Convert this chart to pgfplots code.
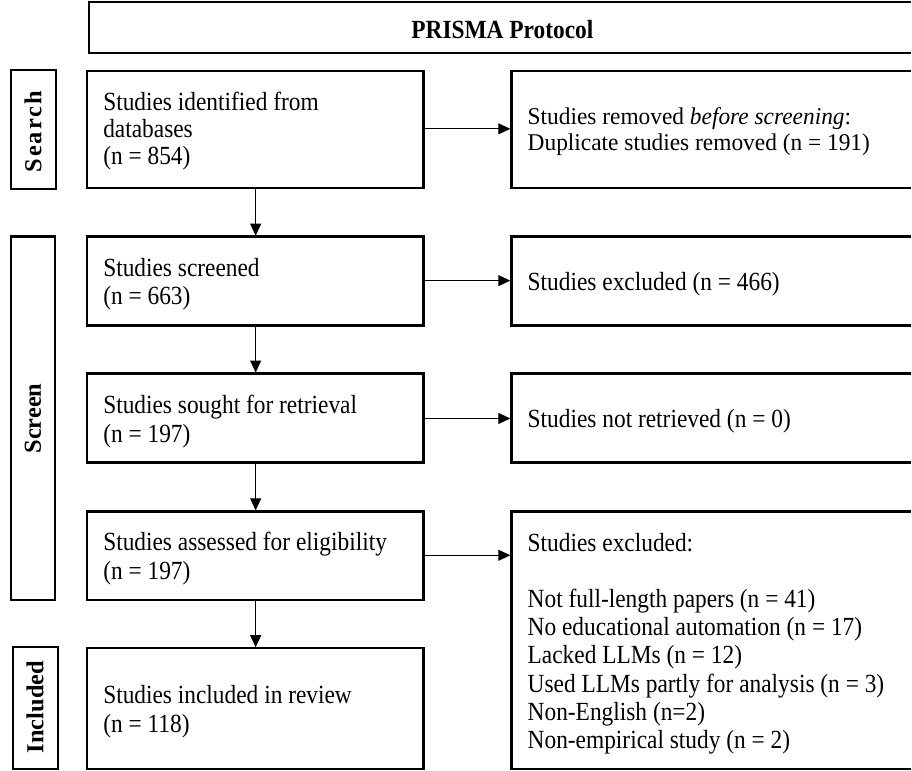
\documentclass[border=0pt]{standalone}
\usepackage{fontspec}
\setmainfont{Liberation Serif}
\usepackage{graphicx}
\usepackage{pgfplots}
\pgfplotsset{compat=1.18}
\usetikzlibrary{arrows.meta}
\newcommand\fs{\fontsize{11.7}{14}\selectfont}
\newcommand\T[1]{\scalebox{1}[1.12]{#1}}
\newcommand\Ts[1]{\scalebox{1}[1.03]{#1}}
\begin{document}
\begin{tikzpicture}
\begin{axis}[
  width=456pt, height=386pt, scale only axis,
  xmin=0, xmax=912, ymin=0, ymax=772, y dir=reverse,
  hide axis, clip=false,
]
\path (axis cs:0,0) rectangle (axis cs:912,772);
\tikzset{bx/.style={line width=1.2pt, draw=black},
         ar/.style={line width=0.5pt, -{Triangle[length=6pt,width=5.5pt]}},
         tx/.style={anchor=base west, inner sep=0pt, font=\fs},
         lb/.style={rotate=90, inner sep=0pt, font=\fontsize{12.2}{14}\selectfont\bfseries}}
% title
\draw[bx] (axis cs:912,2) -- (axis cs:89,2) -- (axis cs:89,53) -- (axis cs:912,53);
\node[inner sep=0pt, font=\fs\bfseries] at (axis cs:503,30) {\T{PRISMA Protocol}};
% stage labels
\draw[bx] (axis cs:11,70) rectangle (axis cs:56,189);
\node[lb] at (axis cs:33,132) {\addfontfeature{LetterSpace=8}Search};
\draw[bx] (axis cs:11,237) rectangle (axis cs:55,601);
\node[lb] at (axis cs:33,419) {Screen};
\draw[bx] (axis cs:13,648) rectangle (axis cs:58,770);
\node[lb] at (axis cs:35,708) {Included};
% left boxes
\draw[bx] (axis cs:87,71) rectangle (axis cs:424,188);
\node[tx] at (axis cs:103,111) {\T{Studies identified from}};
\node[tx] at (axis cs:103,138) {\T{databases}};
\node[tx] at (axis cs:103,165) {\T{(n = 854)}};
\draw[bx] (axis cs:87,237) rectangle (axis cs:424,326);
\node[tx] at (axis cs:103,277) {\T{Studies screened}};
\node[tx] at (axis cs:103,305) {\T{(n = 663)}};
\draw[bx] (axis cs:87,374) rectangle (axis cs:424,463);
\node[tx] at (axis cs:103,414) {\T{Studies sought for retrieval}};
\node[tx] at (axis cs:103,443) {\T{(n = 197)}};
\draw[bx] (axis cs:87,512) rectangle (axis cs:424,601);
\node[tx] at (axis cs:103,551) {\T{Studies assessed for eligibility}};
\node[tx] at (axis cs:103,580) {\T{(n = 197)}};
\draw[bx] (axis cs:87,649) rectangle (axis cs:424,770);
\node[tx] at (axis cs:103,704) {\T{Studies included in review}};
\node[tx] at (axis cs:103,733) {\T{(n = 118)}};
% right boxes (open on the right, cut by the page edge)
\draw[bx] (axis cs:912,71) -- (axis cs:512,71) -- (axis cs:512,188) -- (axis cs:912,188);
\node[tx] at (axis cs:528,125) {\Ts{Studies removed \textit{before screening}:}};
\node[tx] at (axis cs:528,151) {\Ts{Duplicate studies removed (n = 191)}};
\draw[bx] (axis cs:912,237) -- (axis cs:512,237) -- (axis cs:512,326) -- (axis cs:912,326);
\node[tx] at (axis cs:528,291) {\T{Studies excluded (n = 466)}};
\draw[bx] (axis cs:912,374) -- (axis cs:512,374) -- (axis cs:512,463) -- (axis cs:912,463);
\node[tx] at (axis cs:528,428) {\T{Studies not retrieved (n = 0)}};
\draw[bx] (axis cs:912,512) -- (axis cs:512,512) -- (axis cs:512,770) -- (axis cs:912,770);
\node[tx] at (axis cs:528,552) {\T{Studies excluded:}};
\node[tx] at (axis cs:528,608) {\T{Not full-length papers (n = 41)}};
\node[tx] at (axis cs:528,636) {\T{No educational automation (n = 17)}};
\node[tx] at (axis cs:528,664) {\T{Lacked LLMs (n = 12)}};
\node[tx] at (axis cs:528,693) {\T{Used LLMs partly for analysis (n = 3)}};
\node[tx] at (axis cs:528,721) {\T{Non-English (n=2)}};
\node[tx] at (axis cs:528,749) {\T{Non-empirical study (n = 2)}};
% arrows
\draw[ar] (axis cs:424,129) -- (axis cs:511,129);
\draw[ar] (axis cs:424,281) -- (axis cs:511,281);
\draw[ar] (axis cs:424,419) -- (axis cs:511,419);
\draw[ar] (axis cs:424,556) -- (axis cs:511,556);
\draw[ar] (axis cs:256,188) -- (axis cs:256,236);
\draw[ar] (axis cs:256,326) -- (axis cs:256,373);
\draw[ar] (axis cs:256,463) -- (axis cs:256,511);
\draw[ar] (axis cs:256,601) -- (axis cs:256,648);
\end{axis}
\end{tikzpicture}
\end{document}
